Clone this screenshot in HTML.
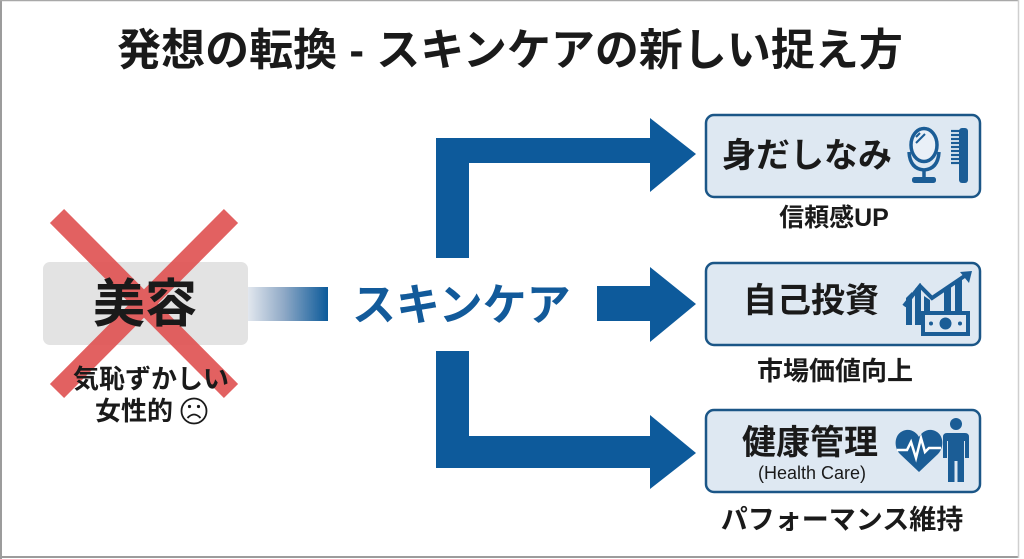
<!DOCTYPE html>
<html><head><meta charset="utf-8"><style>
html,body{margin:0;padding:0;background:#fff;}
#c{position:relative;width:1024px;height:559px;overflow:hidden;background:#fff;}
.t{position:absolute;white-space:nowrap;line-height:1;font-family:"Liberation Sans","Noto Sans CJK JP",sans-serif;color:#1a1a1a;}
.ctr{text-align:center;}
</style></head><body><div id="c">
<svg width="1024" height="559" style="position:absolute;left:0;top:0">
<defs>
<linearGradient id="g" x1="0" x2="1" y1="0" y2="0">
<stop offset="0" stop-color="#e2e7ee"/><stop offset="0.45" stop-color="#8fa9c6"/><stop offset="1" stop-color="#0b5a9a"/>
</linearGradient>
</defs>
<!-- frame -->
<line x1="1" y1="0" x2="1" y2="559" stroke="#9c9c9c" stroke-width="2"/>
<line x1="0" y1="0.5" x2="1019" y2="0.5" stroke="#a8a8a8" stroke-width="1.5"/>
<line x1="0" y1="557" x2="1019" y2="557" stroke="#9c9c9c" stroke-width="2"/>
<line x1="1018.5" y1="0" x2="1018.5" y2="558" stroke="#cfcfcf" stroke-width="1.5"/>
<!-- left gray box -->
<rect x="43" y="262" width="205" height="83" rx="7" fill="#e3e3e3"/>
<rect x="248" y="287" width="80" height="34" fill="url(#g)"/>
<!-- red X -->
<g stroke="#e05454" stroke-width="20" opacity="0.92">
<line x1="57" y1="216" x2="231" y2="391"/>
<line x1="231" y1="216" x2="57" y2="391"/>
</g>
<!-- arrows -->
<g fill="#0d5a9b">
<polygon points="436,258 436,138 650,138 650,118 696,154 650,192 650,163 469,163 469,258"/>
<polygon points="597,286 650,286 650,267 696,304 650,342 650,321 597,321"/>
<polygon points="436,351 469,351 469,436 650,436 650,415 696,453 650,489 650,468 436,468"/>
</g>
<!-- boxes -->
<g fill="#dee8f2" stroke="#1b5687" stroke-width="2.5">
<rect x="706" y="115" width="274" height="82" rx="8"/>
<rect x="706" y="263" width="274" height="82" rx="8"/>
<rect x="706" y="410" width="274" height="82" rx="8"/>
</g>
<!-- mirror -->
<g stroke="#1b5d96" fill="none" stroke-width="3.5">
<ellipse cx="924" cy="145" rx="13" ry="16.5" fill="#e9f0f7"/>
<path d="M909 152 Q910 169 924 170" />
<path d="M939 152 Q938 169 924 170" />
<line x1="924" y1="170" x2="924" y2="178"/>
<line x1="916" y1="137" x2="920" y2="133" stroke-width="2"/>
<line x1="916" y1="143" x2="925" y2="134" stroke-width="2"/>
</g>
<rect x="912" y="177" width="24" height="6" rx="2.5" fill="#1b5d96"/>
<!-- comb -->
<rect x="959" y="128" width="9" height="55" rx="3" fill="#1b5d96"/>
<g stroke="#1b5d96" stroke-width="2.2">
<line x1="951" y1="131" x2="960" y2="131"/><line x1="951" y1="135" x2="960" y2="135"/>
<line x1="951" y1="139" x2="960" y2="139"/><line x1="951" y1="143" x2="960" y2="143"/>
<line x1="951" y1="147" x2="960" y2="147"/><line x1="951" y1="151" x2="960" y2="151"/>
<line x1="951" y1="155" x2="960" y2="155"/><line x1="951" y1="159" x2="960" y2="159"/>
<line x1="951" y1="163" x2="960" y2="163"/>
</g>
<!-- growth icon -->
<g fill="#1b5d96">
<polygon points="906,298 912,292 912,325 906,325"/>
<polygon points="915,289 921,283 921,325 915,325"/>
<polygon points="924,296 930,300 930,325 924,325"/>
<polygon points="944,292 951,287 951,312 944,312"/>
<polygon points="955,281 962,276 962,312 955,312"/>
<polygon points="960,272 972,271 969,283"/>
</g>
<polyline points="904,306 920,286 932,298 966,275" fill="none" stroke="#1b5d96" stroke-width="4"/>
<rect x="923" y="313" width="45" height="21" fill="#dee8f2" stroke="#1b5d96" stroke-width="4"/>
<circle cx="945.5" cy="323.5" r="6" fill="#1b5d96"/>
<circle cx="931" cy="323.5" r="2" fill="#1b5d96"/><circle cx="960" cy="323.5" r="2" fill="#1b5d96"/>
<!-- heart -->
<path d="M919 472 L900 454 C893 447 894 432 906 430 C912 429 917 433 919 437 C921 433 926 429 932 430 C944 432 945 447 938 454 Z" fill="#1b5d96"/>
<polyline points="897,450 907,450 911,442 916,458 921,438 925,452 929,448 941,448" fill="none" stroke="#fff" stroke-width="2.5"/>
<!-- person -->
<circle cx="956" cy="424" r="6" fill="#1b5d96"/>
<path d="M947 433 H965 Q969 433 969 437 V458 H965 V441 H964 V482 H957.5 V461 H954.5 V482 H948 V441 H947 V458 H943 V437 Q943 433 947 433 Z" fill="#1b5d96"/>
<!-- frown face -->
<g fill="none" stroke="#1a1a1a" stroke-width="1.8">
<circle cx="194" cy="411" r="12.5"/>
<path d="M187.5 418 Q194 411 200.5 418"/>
</g>
<circle cx="189.5" cy="406.5" r="1.6" fill="#1a1a1a"/><circle cx="198.5" cy="406.5" r="1.6" fill="#1a1a1a"/>
</svg>

<div class="t ctr" style="left:0;width:1020px;top:29px;font-size:44px;font-weight:bold;">発想の転換 - スキンケアの新しい捉え方</div>

<div class="t ctr" style="left:45px;width:200px;top:279px;font-size:52px;font-weight:bold;">美容</div>
<div class="t ctr" style="left:51px;width:200px;top:366px;font-size:26px;font-weight:bold;">気恥ずかしい</div>
<div class="t" style="left:95px;top:398px;font-size:26px;font-weight:bold;">女性的</div>

<div class="t" style="left:352px;top:284px;font-size:44px;font-weight:bold;color:#125a9a;">スキンケア</div>

<div class="t" style="left:722px;top:139px;font-size:34px;font-weight:bold;">身だしなみ</div>
<div class="t ctr" style="left:734px;width:200px;top:206px;font-size:25px;font-weight:bold;">信頼感UP</div>

<div class="t" style="left:743px;top:284px;font-size:34px;font-weight:bold;">自己投資</div>
<div class="t ctr" style="left:735px;width:200px;top:358px;font-size:26px;font-weight:bold;">市場価値向上</div>

<div class="t" style="left:742px;top:426px;font-size:34px;font-weight:bold;">健康管理</div>
<div class="t ctr" style="left:712px;width:200px;top:464px;font-size:18px;">(Health Care)</div>
<div class="t ctr" style="left:692px;width:300px;top:507px;font-size:27px;font-weight:bold;">パフォーマンス維持</div>
</div></body></html>
